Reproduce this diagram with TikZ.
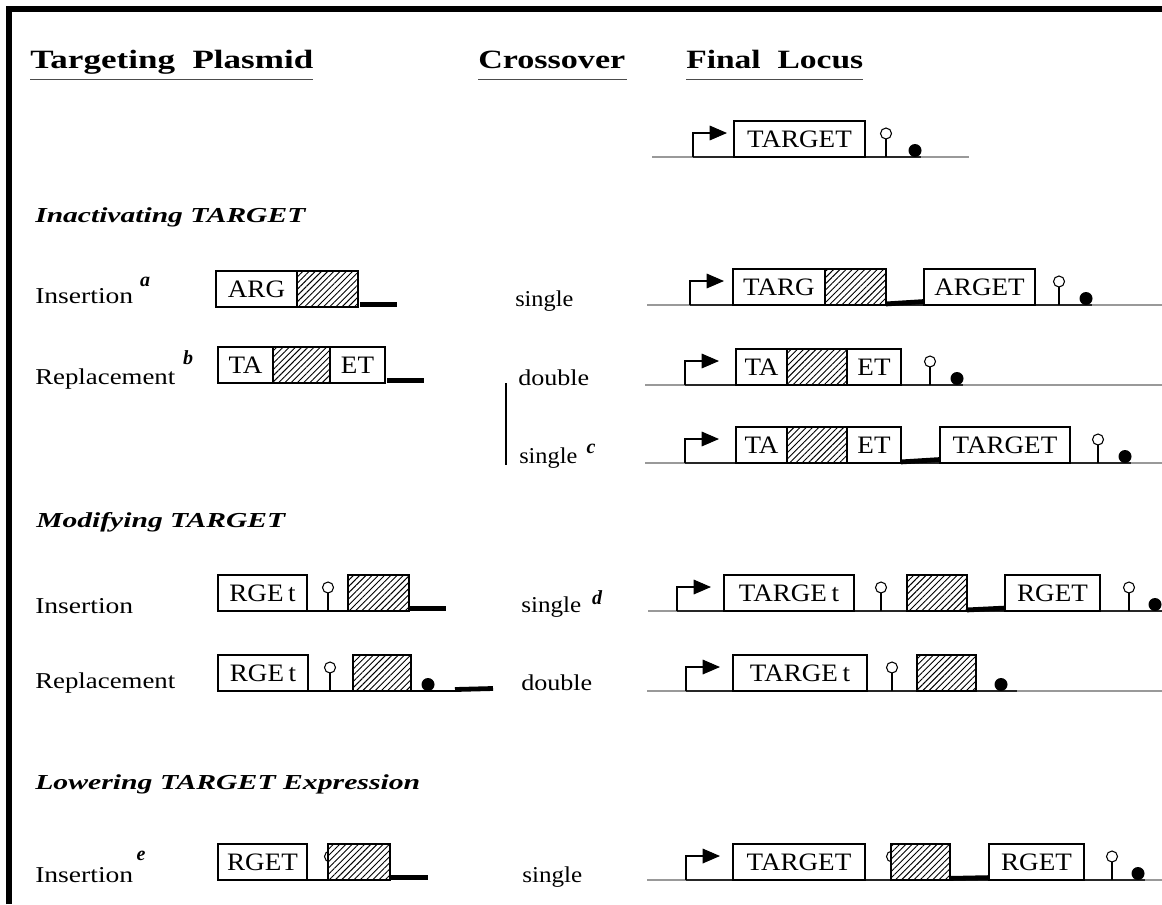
\documentclass[tikz,border=0pt]{standalone}
\usepackage{graphicx}
\usepackage{fontspec}
\setmainfont{Liberation Serif}
\usetikzlibrary{arrows.meta,patterns.meta}
\newcommand\sx[2]{\scalebox{#1}[1]{#2}}
\newcommand\fw[2]{\resizebox{#1pt}{\height}{#2}}
\tikzset{
 lbl/.style={anchor=base west, inner sep=0, font=\fontsize{17}{19}\selectfont},
 hdr/.style={anchor=base west, inner sep=0, font=\bfseries\fontsize{19.8}{21}\selectfont},
 sec/.style={anchor=base west, inner sep=0, font=\bfseries\itshape\fontsize{16}{18}\selectfont},
 supl/.style={inner sep=0, font=\bfseries\itshape\fontsize{15}{16}\selectfont},
 uline/.style={line width=1.1pt, black!70},
 gbox/.style={draw, line width=1.15pt, fill=white, inner sep=0, outer sep=0, anchor=south west, minimum height=27pt, font=\fontsize{18.8}{20}\selectfont},
 hbox/.style={draw, line width=1.15pt, inner sep=0, outer sep=0, anchor=south west, minimum height=27pt, preaction={fill=white}, pattern={Lines[angle=45,distance=3.3pt,line width=0.7pt]}},
 grayln/.style={line width=0.8pt, black!40},
 darkln/.style={line width=0.9pt, black!85},
 thinln/.style={line width=0.8pt, black},
 tbarst/.style={line width=3.6pt, black},
 promst/.style={line width=0.85pt, -{Triangle[length=13pt,width=11pt]}},
}
\newcommand\prom[2]{\draw[promst] (#1,#2) |- ++(34,-24);}
\newcommand\lolli[2]{\draw[thinln] (#1,#2) -- (#1,#2-18); \draw[thinln,fill=white] (#1,#2-23.5) circle (5.5);}
\newcommand\tdot[2]{\fill (#1,#2-6.5) circle (6.5);}
\newcommand\gb[5]{\node[gbox, minimum width={(#3-#2)*0.75pt}] (#1) at (#2,#4) {\sx{1.08}{#5}};}
\newcommand\hb[4]{\node[hbox, minimum width={(#3-#2)*0.75pt}] (#1) at (#2,#4) {};}
\begin{document}
\begin{tikzpicture}[x=0.75pt,y=-0.75pt]
\useasboundingbox (0,0) rectangle (1162,904);
% frame
\draw[line width=3.9pt] (9,904) -- (9,9) -- (1162,9);
% headers
\node[hdr] (hA) at (30,68) {\fw{212.25}{Targeting\ \ Plasmid}};
\node[hdr] (hB) at (478,68) {\fw{110.25}{Crossover}};
\node[hdr] (hC) at (686,68) {\fw{132.75}{Final\ \ Locus}};
\draw[uline] (30,79.5) -- (313,79.5);
\draw[uline] (478,79.5) -- (627,79.5);
\draw[uline] (686,79.5) -- (863,79.5);
% wild-type locus
\draw[grayln] (652,157) -- (969,157);
\draw[darkln] (693,157) -- (921,157);
\prom{693}{157}
\gb{t0}{734}{865}{157}{TARGET}
\lolli{886}{157}
\tdot{915}{157}
% section 1
\node[sec] (s1) at (35,222) {\fw{202.5}{Inactivating TARGET}};
% row 1
\node[lbl] (r1l) at (35,303) {\fw{73.5}{Insertion}};
\node[supl] (r1s) at (145,282) {a};
\gb{p1a}{216}{297}{307}{ARG}
\hb{p1h}{297}{358}{307}
\draw[tbarst] (360,304.5) -- (397,304.5);
\node[lbl] (r1c) at (515,306) {\fw{43.5}{single}};
\draw[grayln] (647,305) -- (1162,305);
\draw[darkln] (690,305) -- (1092,305);
\prom{690}{305}
\gb{l1a}{733}{825}{305}{TARG}
\hb{l1h}{825}{886}{305}
\gb{l1b}{924}{1035}{305}{ARGET}
\draw[tbarst] ([yshift=0.8pt]l1h.south east) -- ([yshift=2.6pt]l1b.south west);
\lolli{1059}{305}
\tdot{1086}{305}
% row 2
\node[lbl] (r2l) at (35,384) {\fw{105}{Replacement}};
\node[supl] (r2s) at (188,358) {b};
\gb{p2a}{218}{273}{383}{TA}
\hb{p2h}{273}{330}{383}
\gb{p2b}{330}{385}{383}{ET}
\draw[tbarst] (387,380.5) -- (424,380.5);
\node[lbl] (r2c) at (518,385) {\fw{53.25}{double}};
\draw[thinln] (506,383) -- (506,465);
\draw[grayln] (645,385) -- (1162,385);
\draw[darkln] (685,385) -- (963,385);
\prom{685}{385}
\gb{l2a}{736}{787}{385}{TA}
\hb{l2h}{787}{847}{385}
\gb{l2b}{847}{901}{385}{ET}
\lolli{930}{385}
\tdot{957}{385}
% row 3
\node[lbl] (r3c) at (519,463) {\fw{43.5}{single}};
\node[supl] (r3s) at (591,449) {c};
\draw[grayln] (645,463) -- (1162,463);
\draw[darkln] (685,463) -- (1131,463);
\prom{685}{463}
\gb{l3a}{736}{787}{463}{TA}
\hb{l3h}{787}{847}{463}
\gb{l3b}{847}{901}{463}{ET}
\gb{l3c}{940}{1070}{463}{TARGET}
\draw[tbarst] ([yshift=0.8pt]l3b.south east) -- ([yshift=2.6pt]l3c.south west);
\lolli{1098}{463}
\tdot{1125}{463}
% section 2
\node[sec] (s2) at (36,527) {\fw{186.75}{Modifying TARGET}};
% row 4
\node[lbl] (r4l) at (35,613) {\fw{73.5}{Insertion}};
\gb{p4a}{218}{307}{611}{RGE\,t}
\hb{p4h}{348}{409}{611}
\draw[thinln] (p4a.south east) -- (p4h.south west);
\lolli{328}{611}
\draw[tbarst] (409,608.5) -- (446,608.5);
\node[lbl] (r4c) at (521,612) {\fw{45}{single}};
\node[supl] (r4s) at (597,598) {d};
\draw[grayln] (648,611) -- (1162,611);
\draw[darkln] (677,611) -- (1162,611);
\prom{677}{611}
\gb{l4a}{724}{854}{611}{TARGE\,t}
\hb{l4h}{907}{967}{611}
\gb{l4b}{1005}{1100}{611}{RGET}
\draw[tbarst] ([yshift=0.8pt]l4h.south east) -- ([yshift=2.2pt]l4b.south west);
\lolli{881}{611}
\lolli{1129}{611}
\tdot{1155}{611}
% row 5
\node[lbl] (r5l) at (35,688) {\fw{105}{Replacement}};
\gb{p5a}{218}{308}{691}{RGE\,t}
\coordinate (p5e) at (455,691);
\draw[thinln] (p5a.south east) -- (p5e);
\lolli{330}{691}
\hb{p5h}{353}{411}{691}
\tdot{428}{691}
\draw[tbarst] (455,689.5) -- (493,688.5);
\node[lbl] (r5c) at (521,690) {\fw{53.25}{double}};
\draw[grayln] (647,691) -- (1162,691);
\draw[darkln] (686,691) -- (1017,691);
\prom{686}{691}
\gb{l5a}{733}{867}{691}{TARGE\,t}
\lolli{892}{691}
\hb{l5h}{917}{976}{691}
\tdot{1001}{691}
% section 3
\node[sec] (s3) at (35,789) {\fw{288.75}{Lowering TARGET Expression}};
% row 6
\node[lbl] (r6l) at (35,882) {\fw{73.5}{Insertion}};
\node[supl] (r6s) at (141,856) {e};
\gb{p6a}{218}{307}{880}{RGET}
\draw[thinln] (p6a.south east) -- (330,880);
\draw[thinln,fill=white] (330,856.5) circle (5.5);
\hb{p6h}{328}{390}{880}
\draw[tbarst] (390,877.5) -- (428,877.5);
\node[lbl] (r6c) at (522,882) {\fw{45}{single}};
\draw[grayln] (647,880) -- (1162,880);
\draw[darkln] (686,880) -- (1145,880);
\prom{686}{880}
\gb{l6a}{733}{865}{880}{TARGET}
\draw[thinln,fill=white] (892,856.5) circle (5.5);
\hb{l6h}{891}{950}{880}
\gb{l6b}{989}{1084}{880}{RGET}
\draw[tbarst] ([yshift=1.2pt]l6h.south east) -- ([yshift=1.8pt]l6b.south west);
\lolli{1112}{880}
\tdot{1138}{880}
\end{tikzpicture}
\end{document}
